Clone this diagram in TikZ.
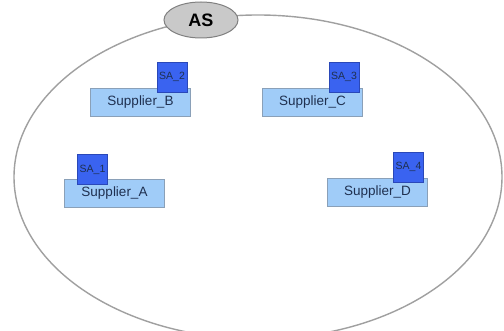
\documentclass[tikz,border=0pt]{standalone}
\usepackage{fontspec}
\setmainfont{Liberation Sans}
\usetikzlibrary{shapes.geometric}
\definecolor{boxfill}{HTML}{A0CCF8}
\definecolor{boxline}{HTML}{8AA0B8}
\definecolor{agentfill}{HTML}{3A63F0}
\definecolor{agentline}{HTML}{2A48B8}
\definecolor{labeltext}{HTML}{1F3050}
\definecolor{ringline}{HTML}{A0A0A0}
\tikzset{
  supplier/.style={draw=boxline, fill=boxfill, line width=0.9pt, rectangle,
    minimum width=100pt, minimum height=28pt, inner sep=0pt,
    text=labeltext, font=\fontsize{13.5}{14}\selectfont},
  agent/.style={draw=agentline, fill=agentfill, line width=0.9pt, rectangle,
    minimum width=30pt, minimum height=30pt, inner sep=0pt,
    text=labeltext, font=\fontsize{10.5}{11}\selectfont},
  system/.style={draw=gray, fill=lightgray!85!white, line width=1pt, ellipse,
    minimum width=74pt, minimum height=36pt, inner sep=0pt,
    font=\bfseries\fontsize{18}{18}\selectfont},
  ring/.style={draw=ringline, line width=1.4pt}
}
\begin{document}
\begin{tikzpicture}[x=1pt,y=-1pt]
  \useasboundingbox (0,0) rectangle (504,331);
  \clip (0,0) rectangle (504,331);
  \fill[white] (0,0) rectangle (504,331);
  % agent system boundary
  \draw[ring] (258,177) ellipse [x radius=244, y radius=162];
  \node[system] (as) at (201,20) {AS};
  % suppliers
  \node[supplier] (supB) at (140.5,102) {Supplier\_B};
  \node[supplier] (supC) at (312.5,102) {Supplier\_C};
  \node[supplier] (supA) at (114.5,193) {Supplier\_A};
  \node[supplier] (supD) at (377.5,192) {Supplier\_D};
  % supplier agents
  \node[agent] (sa2) at (172,77) {SA\_2};
  \node[agent] (sa3) at (344,77) {SA\_3};
  \node[agent] (sa1) at (92.5,169.5) {SA\_1};
  \node[agent] (sa4) at (408.5,167) {SA\_4};
\end{tikzpicture}
\end{document}
